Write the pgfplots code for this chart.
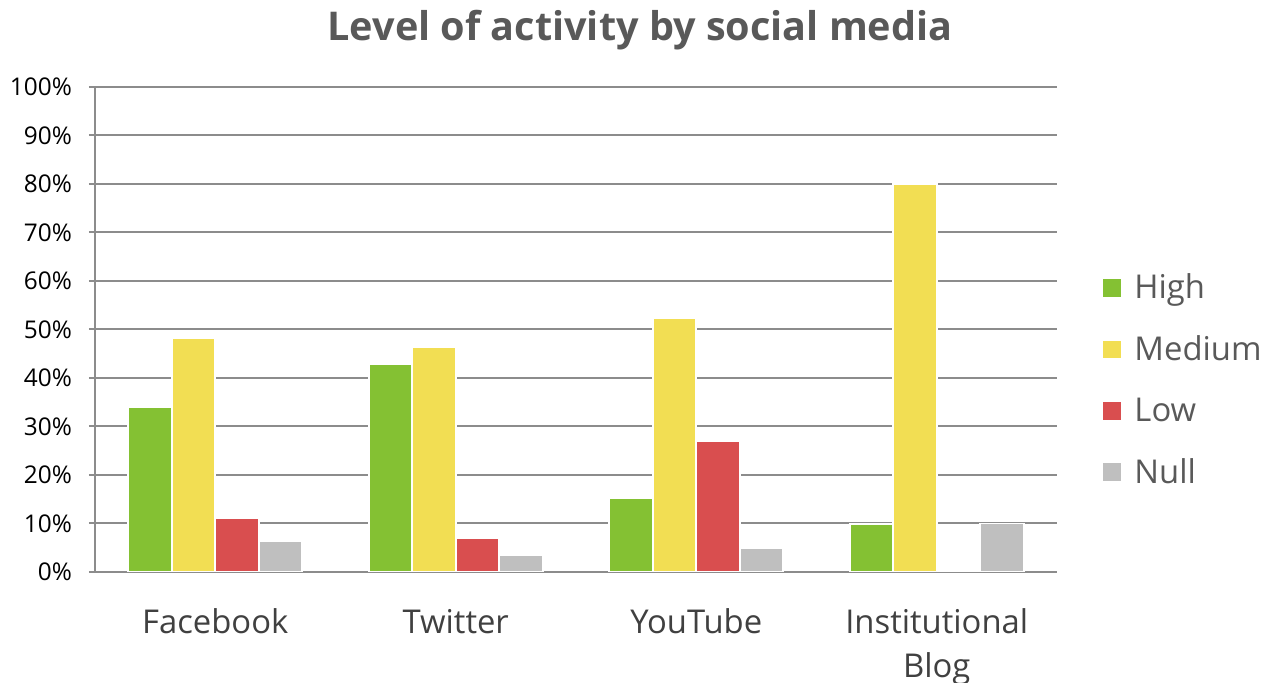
\documentclass[border=0pt]{standalone}
\usepackage{fontspec}
\setmainfont{Open Sans}
\usepackage{pgfplots}
\usepackage{pgfplotstable}
\pgfplotsset{compat=1.18}

\definecolor{cHigh}{HTML}{84C133}
\definecolor{cMed}{HTML}{F2DE53}
\definecolor{cLow}{HTML}{D94E4F}
\definecolor{cNull}{HTML}{BFBFBF}
\definecolor{gridgray}{HTML}{8C8C8C}
\definecolor{titlegray}{HTML}{595959}

% values in percent
\pgfplotstableread{
x High Medium Low Null
0 34.0 48.3 11.1 6.3
1 42.9 46.4 7.0 3.5
2 15.3 52.4 27.0 5.0
3 9.9 80.0 0 10.0
}\activity

\begin{document}
\begin{tikzpicture}
\begin{axis}[
    at={(0,0)}, anchor=south west,
    scale only axis,
    width=481pt, height=242.5pt,
    ybar=0pt, bar width=21.75pt,
    xmin=-0.5, xmax=3.5,
    ymin=0, ymax=100,
    xtick={0,1,2,3},
    xticklabels={Facebook,Twitter,YouTube,Institutional\\Blog},
    x tick label style={align=center, font=\fontsize{16.4}{22}\selectfont,
        text=black!75, yshift=-12pt},
    major x tick style={draw=none},
    extra x ticks={-0.5,0.5,1.5,2.5,3.5},
    extra x tick labels={},
    extra x tick style={grid=none, major tick length=4pt, tick align=outside,
        major tick style={draw=gridgray, line width=1pt}},
    ytick={0,10,...,100},
    yticklabel={\pgfmathprintnumber{\tick}\%},
    /pgf/number format/assume math mode=true,
    y tick label style={font=\fontsize{12.2}{14}\selectfont, text=black, xshift=-5pt},
    ymajorgrids,
    major grid style={draw=gridgray, line width=1pt},
    major y tick style={draw=gridgray, line width=1pt},
    tick align=outside, major tick length=3pt,
    axis x line*=bottom, axis y line*=left,
    axis line style={draw=gridgray, line width=1pt},
    legend style={at={(1.04,0.396)}, anchor=west, draw=none, fill=none,
        font=\fontsize{16.4}{19}\selectfont, text=titlegray,
        row sep=13pt},
    legend cell align=left,
    legend image code/.code={\fill[#1] (0pt,-4.75pt) rectangle (9.5pt,4.75pt);},
    every axis plot/.append style={draw=white, line width=0.8pt},
]
\addplot[fill=cHigh] table[x=x, y=High] {\activity};
\addplot[fill=cMed] table[x=x, y=Medium] {\activity};
\addplot[fill=cLow] table[x=x, y=Low] {\activity};
\addplot[fill=cNull] table[x=x, y=Null] {\activity};
\legend{\hspace{4pt}High,\hspace{4pt}Medium,\hspace{4pt}Low,\hspace{4pt}Null}
\end{axis}
\node[font=\bfseries\fontsize{19.8}{22}\selectfont, text=titlegray] at (272.5pt,271pt) {Level of activity by social media};
\pgfresetboundingbox
\path[use as bounding box] (-47.5pt,-55.5pt) rectangle (584pt,286pt);
\end{tikzpicture}
\end{document}
